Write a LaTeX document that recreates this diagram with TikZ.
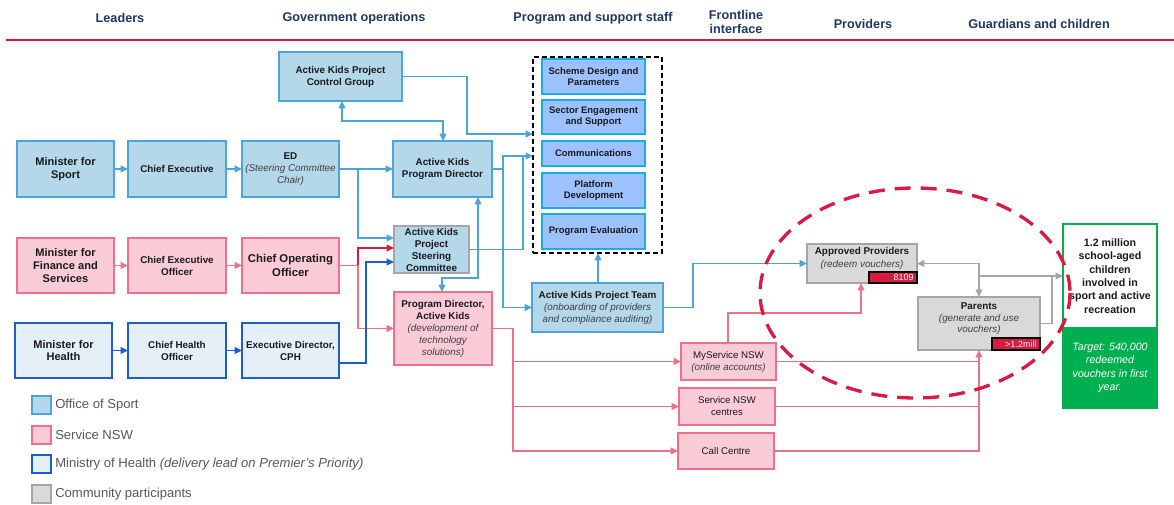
\documentclass[tikz,border=0pt]{standalone}
\usepackage{fontspec}
\setmainfont{Liberation Sans}
\usetikzlibrary{arrows.meta,calc}

\definecolor{navy}{HTML}{1F3864}
\definecolor{crim}{HTML}{D91A42}
\definecolor{sportfill}{HTML}{B4D7EA}
\definecolor{sportline}{HTML}{4BA5D8}
\definecolor{stafffill}{HTML}{9DC1FF}
\definecolor{staffline}{HTML}{19ADE6}
\definecolor{pinkfill}{HTML}{F9CBD6}
\definecolor{pinkline}{HTML}{EE7189}
\definecolor{healthfill}{HTML}{E5EFF8}
\definecolor{healthline}{HTML}{1C5ECF}
\definecolor{greyfill}{HTML}{D9D9D9}
\definecolor{greyline}{HTML}{A6A6A6}
\definecolor{greenc}{HTML}{00B050}
\definecolor{txt}{HTML}{1A1A1A}
\definecolor{itxt}{HTML}{404040}
\definecolor{legtxt}{HTML}{595959}

\newcommand\myit[1]{{\mdseries\itshape\color{itxt}#1}}

\tikzset{
  wh/.style 2 args={minimum width={#1*0.75pt}, minimum height={#2*0.75pt}},
  bx/.style={draw, line width=1.4pt, outer sep=0pt, anchor=north west, align=center, inner sep=1pt, text=txt,
             font=\fontsize{7.4}{9}\selectfont\bfseries},
  sportbox/.style={bx, fill=sportfill, draw=sportline},
  pinkbox/.style={bx, fill=pinkfill, draw=pinkline},
  healthbox/.style={bx, fill=healthfill, draw=healthline},
  greybox/.style={bx, fill=greyfill, draw=greyline},
  staffbox/.style={bx, fill=stafffill, draw=staffline, font=\fontsize{7.1}{8}\selectfont\bfseries},
  bigtxt/.style={font=\fontsize{8.3}{9.6}\selectfont\bfseries},
  plaintxt/.style={font=\fontsize{7.3}{9}\selectfont},
  hdr/.style={text=navy, font=\fontsize{9.5}{10.5}\selectfont\bfseries, align=center, inner sep=0pt},
  badge/.style={draw=black, fill=crim, line width=0.9pt, outer sep=0pt, anchor=north west, text=white,
                font=\fontsize{6.8}{7}\selectfont, inner xsep=2pt, inner ysep=0pt, align=right},
  seg/.style={line width=1.3pt},
  conn/.style={line width=1.3pt, -{Triangle[length=5.5pt,width=5pt]}},
  dblarrow/.style={line width=1.3pt, {Triangle[length=5.5pt,width=5pt]}-{Triangle[length=5.5pt,width=5pt]}},
  legbox/.style={draw, line width=1.1pt, outer sep=0pt, anchor=north west, minimum width=14.25pt, minimum height=13.5pt, inner sep=0pt},
  legtext/.style={anchor=west, text=legtxt, font=\fontsize{9.8}{11}\selectfont, inner sep=0pt}
}

\begin{document}
\begin{tikzpicture}[x=0.75pt,y=-0.75pt]
\useasboundingbox (0,0) rectangle (1174,505);
\fill[white] (0,0) rectangle (1174,505);

% headers
\node[hdr] (hLeaders) at (120,18) {Leaders};
\node[hdr] (hGov) at (354,18) {Government operations};
\node[hdr] (hProg) at (593,18) {Program and support staff};
\node[hdr] (hFront) at (736,22) {Frontline\\interface};
\node[hdr] (hProv) at (863,24) {Providers};
\node[hdr] (hGuard) at (1039,24) {Guardians and children};
\draw[crim, line width=1.2pt] (6,40) -- (1174,40);

% leaders & government operations
\node[sportbox, bigtxt, wh={97}{56}] (minsport) at (17,141) {Minister for\\Sport};
\node[sportbox, wh={98}{56}] (ceo1) at (128,141) {Chief Executive};
\node[sportbox, wh={97}{56}] (ed) at (242,141) {ED\\\myit{(Steering Committee}\\\myit{Chair)}};
\node[pinkbox, bigtxt, wh={97}{55}] (minfin) at (17,238) {Minister for\\Finance and\\Services};
\node[pinkbox, wh={98}{55}] (ceo2) at (128,238) {Chief Executive\\Officer};
\node[pinkbox, font=\fontsize{8.5}{10.5}\selectfont\bfseries, wh={97}{55}] (coo) at (242,238) {Chief Operating\\Officer};
\node[healthbox, bigtxt, wh={97}{55}] (minhealth) at (15,323) {Minister for\\Health};
\node[healthbox, wh={98}{55}] (cho) at (128,323) {Chief Health\\Officer};
\node[healthbox, wh={97}{55}] (edcph) at (242,323) {Executive Director,\\CPH};

\node[sportbox, wh={123}{49}] (control) at (279,52) {Active Kids Project\\Control Group};
\node[sportbox, wh={99}{56}] (akpd) at (393,141) {Active Kids\\Program Director};
\node[bx, fill=sportfill, draw=greyline, wh={75}{47}] (steer) at (394,226) {Active Kids\\Project\\Steering\\Committee};
\node[pinkbox, wh={98}{73}] (pdak) at (394,292) {Program Director,\\Active Kids\\\myit{(development of}\\\myit{technology}\\\myit{solutions)}};

% program and support staff
\node[draw=black, line width=1.3pt, dash pattern=on 3.5pt off 2.5pt, outer sep=0pt, anchor=north west, wh={129}{196}, inner sep=0pt] (staff) at (533,57) {};
\node[staffbox, wh={103}{35}] (scheme) at (542,59) {Scheme Design and\\Parameters};
\node[staffbox, wh={103}{34}] (sector) at (542,100) {Sector Engagement\\and Support};
\node[staffbox, wh={103}{25}] (comms) at (542,141) {Communications};
\node[staffbox, wh={103}{35}] (platform) at (542,173) {Platform\\Development};
\node[staffbox, wh={103}{35}] (evaluation) at (542,214) {Program Evaluation};
\node[sportbox, wh={131}{49}] (team) at (532,283) {Active Kids Project Team\\\myit{(onboarding of providers}\\\myit{and compliance auditing)}};

% frontline
\node[pinkbox, plaintxt, wh={95}{37}] (myservice) at (681,343) {MyService NSW\\\myit{(online accounts)}};
\node[pinkbox, plaintxt, wh={96}{37}] (servicensw) at (679,388) {Service NSW\\centres};
\node[pinkbox, plaintxt, wh={96}{36}] (callcentre) at (678,433) {Call Centre};

% providers, guardians
\node[greybox, font=\fontsize{7.4}{9.5}\selectfont\bfseries, wh={110}{39}] (approved) at (807,244) {Approved Providers\\\myit{(redeem vouchers)}\\\phantom{X}};
\node[badge, wh={48}{11}, text width=31pt] (b8109) at (869,272) {8109};
\node[greybox, font=\fontsize{7.4}{8.8}\selectfont\bfseries, wh={122}{53}] (parents) at (918,297) {Parents\\\myit{(generate and use}\\\myit{vouchers)}\\\phantom{X}};
\node[badge, wh={48}{12}, text width=31pt] (bmill) at (992,338) {>1.2mill};

\node[draw=greenc, fill=white, line width=1.1pt, outer sep=0pt, anchor=north west, wh={94}{104}, align=center, inner sep=1pt, text=txt,
      font=\fontsize{8}{10}\selectfont\bfseries] (goal) at (1063,224) {1.2 million\\school-aged\\children\\involved in\\sport and active\\recreation};
\node[draw=greenc, fill=greenc, line width=1.1pt, outer sep=0pt, anchor=north west, wh={94}{80}, align=center, inner sep=1pt, text=white,
      font=\fontsize{8}{10}\selectfont\itshape] (target) at (1063,328) {Target: 540,000\\redeemed\\vouchers in first\\year.};

% connectors: leaders rows
\draw[conn, sportline] (minsport) -- (ceo1);
\draw[conn, sportline] (ceo1) -- (ed);
\draw[conn, sportline] (ed) -- (akpd);
\coordinate (jed) at (ed.east -| 358,0);
\draw[conn, sportline] (jed) |- (steer.west |- 0,238);

\draw[conn, pinkline] (minfin) -- (ceo2);
\draw[conn, pinkline] (ceo2) -- (coo);
\coordinate (jcoo) at (coo.east -| 358,0);
\draw[seg, pinkline] (coo.east) -- (jcoo);
\draw[conn, crim] (jcoo) |- (steer.west |- 0,248);
\draw[conn, pinkline] (jcoo) |- (pdak.west);

\draw[conn, healthline] (minhealth) -- (cho);
\draw[conn, healthline] (cho) -- (edcph);
\coordinate (jh) at (366,363);
\draw[conn, healthline] (edcph.east |- jh) -- (jh) |- (steer.west |- 0,262);

% government operations
\draw[dblarrow, sportline] (control.south -| 342,0) -- (342,121) -| (akpd.north -| 443,0);
\coordinate (jc) at (control.east -| 467,0);
\draw[conn, sportline] (control.east) -- (jc) |- (staff.west |- 0,134);
\coordinate (jpd) at (akpd.east -| 503,0);
\draw[seg, sportline] (akpd.east) -- (jpd);
\draw[conn, sportline] (jpd) |- (staff.west |- 0,156);
\draw[conn, sportline] (jpd) |- (team.west);
\draw[seg, sportline] (steer.east) -| (523,156);
\draw[dblarrow, sportline] (akpd.south -| 478,0) -- (478,278) -| (pdak.north -| 442,0);
\draw[conn, sportline] (team.north -| 598,0) -- (staff.south -| 598,0);
\coordinate (jt) at (team.east -| 693,0);
\draw[conn, sportline] (team.east) -- (jt) |- (approved.west);

% frontline
\coordinate (jpk) at (pdak.east -| 513,0);
\draw[seg, pinkline] (pdak.east) -- (jpk);
\draw[conn, pinkline] (jpk) |- (myservice.west);
\draw[conn, pinkline] (jpk) |- (servicensw.west);
\draw[conn, pinkline] (jpk) |- (callcentre.west);
\draw[conn, pinkline] (myservice.north -| 728,0) |- (861,313) -- (approved.south -| 861,0);
\draw[seg, pinkline] (myservice.east) -- (myservice.east -| parents.south);
\draw[seg, pinkline] (servicensw.east) -- (servicensw.east -| parents.south);
\draw[conn, pinkline] (callcentre.east) -| (parents.south);

% providers / guardians
\draw[dblarrow, greyline] (approved.east) -| (parents.north);
\coordinate (jg) at (parents.north |- goal.west);
\draw[conn, greyline] (jg) -- (goal.west);
\draw[seg, greyline] (parents.east) -| ($(goal.west)+(-11,0)$);

% red dashed ellipse
\draw[crim, line width=2.5pt, dash pattern=on 12pt off 7.5pt] (915,293) ellipse [x radius=155, y radius=105];

% legend
\node[legbox, fill=sportfill, draw=sportline] (lg1) at (32,396) {};
\node[legtext] (lt1) at (55,405) {Office of Sport};
\node[legbox, fill=pinkfill, draw=pinkline] (lg2) at (32,426) {};
\node[legtext] (lt2) at (55,435) {Service NSW};
\node[legbox, fill=healthfill, draw=healthline] (lg3) at (32,455) {};
\node[legtext] (lt3) at (55,464) {Ministry of Health \textit{(delivery lead on Premier’s Priority)}};
\node[legbox, fill=greyfill, draw=greyline] (lg4) at (32,485) {};
\node[legtext] (lt4) at (55,494) {Community participants};
\end{tikzpicture}
\end{document}
